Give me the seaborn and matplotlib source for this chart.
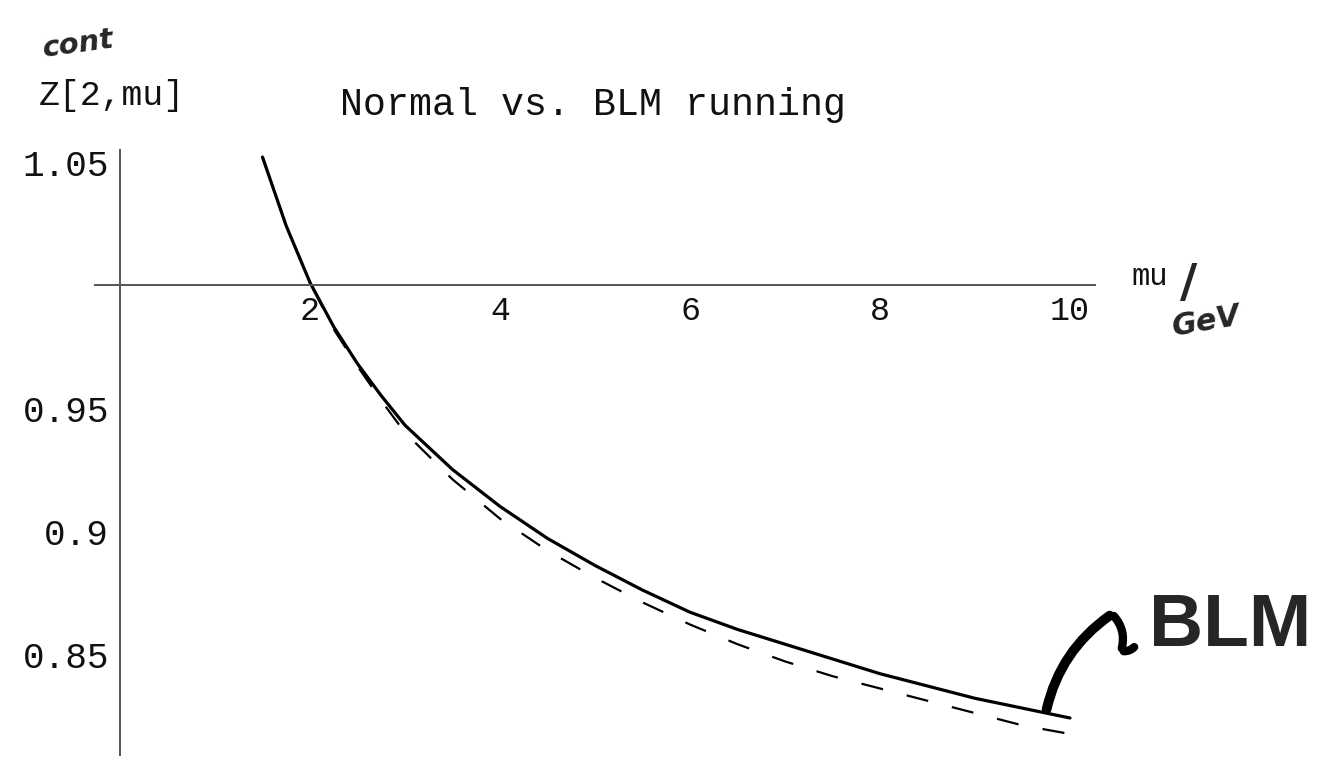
import numpy as np
import pandas as pd
import matplotlib
matplotlib.use("Agg")
import matplotlib.pyplot as plt
import seaborn as sns
from matplotlib.patches import FancyArrowPatch

# ---- data ----
mu = [1.5, 1.75, 2.0, 2.25, 2.5, 2.75, 3.0, 3.5, 4.0, 4.5, 5.0, 5.5, 6.0, 6.5, 7.0, 7.5, 8.0, 8.5, 9.0, 9.5, 10.0]
z_blm = [1.052, 1.024, 1.001, 0.983, 0.968, 0.955, 0.943, 0.925, 0.910, 0.897, 0.886, 0.876, 0.867, 0.860, 0.854, 0.848, 0.842, 0.837, 0.832, 0.828, 0.824]
z_normal = [1.052, 1.024, 1.001, 0.982, 0.967, 0.953, 0.940, 0.921, 0.905, 0.892, 0.881, 0.871, 0.862, 0.854, 0.847, 0.841, 0.836, 0.831, 0.826, 0.821, 0.8175]
xticks = [2, 4, 6, 8, 10]
yticks = [1.05, 0.95, 0.9, 0.85]
ytick_labels = ["1.05", "0.95", "0.9", "0.85"]

df = pd.DataFrame({"mu": mu + mu,
                   "Z": z_blm + z_normal,
                   "run": ["BLM"] * len(mu) + ["Normal"] * len(mu)})

sns.set_style("white")
plt.rcParams["font.family"] = ["Liberation Mono", "DejaVu Sans"]

W, H = 1319, 766
fig = plt.figure(figsize=(W / 100, H / 100), dpi=100)
ax = fig.add_axes([95.3 / W, 1 - 754.9 / H, (1094.7 - 95.3) / W, (754.9 - 149.7) / H])

sns.lineplot(data=df[df.run == "BLM"], x="mu", y="Z", color="black", lw=2.3, ax=ax, sort=False)
sns.lineplot(data=df[df.run == "Normal"], x="mu", y="Z", color="black", lw=1.6, ax=ax, sort=False)
ax.lines[1].set_dashes((10, 11))

ax.set_xlim(-0.26, 10.26)
ax.set_ylim(0.809, 1.055)
ax.set_xlabel("")
ax.set_ylabel("")

for s in ["top", "right"]:
    ax.spines[s].set_visible(False)
ax.spines["left"].set_position(("data", 0))
ax.spines["bottom"].set_position(("data", 1.0))
for s in ["left", "bottom"]:
    ax.spines[s].set_color("#555555")
    ax.spines[s].set_linewidth(1.4)

ax.set_xticks(xticks)
ax.set_xticklabels([str(t) for t in xticks])
ax.set_yticks(yticks)
ax.set_yticklabels(ytick_labels)
ax.tick_params(axis="both", direction="in", length=5, width=1.2, color="#555555",
               labelcolor="#111111")
ax.tick_params(axis="x", pad=8, labelsize=24)
ax.tick_params(axis="y", pad=8, labelsize=26)
ax.patch.set_alpha(0)

def fx(px):
    return px / W

def fy(py):
    return 1 - py / H

fig.text(fx(593), fy(105), "Normal vs. BLM running", ha="center", va="center",
         fontsize=27.5, color="#111111")
fig.text(fx(112), fy(96), "Z[2,mu]", ha="center", va="center", fontsize=25, color="#111111")
fig.text(fx(1150), fy(277), "mu", ha="center", va="center", fontsize=22, color="#111111")

# handwritten notes
fig.text(fx(78), fy(44), "cont", ha="center", va="center", fontsize=21,
         fontweight="bold", fontstyle="italic", family=["DejaVu Sans"], rotation=8)
fig.text(fx(1189), fy(284), "/", ha="center", va="center", fontsize=34,
         fontweight="bold", family=["DejaVu Sans"])
fig.text(fx(1207), fy(322), "GeV", ha="center", va="center", fontsize=22,
         fontweight="bold", fontstyle="italic", family=["DejaVu Sans"], rotation=10)
fig.text(fx(1230), fy(627), "BLM", ha="center", va="center", fontsize=54,
         fontweight="bold", family=["Liberation Sans", "DejaVu Sans"])

arr1 = FancyArrowPatch((1046, H - 712), (1112, H - 614), arrowstyle="-",
                       connectionstyle="arc3,rad=-0.2", lw=7, color="black",
                       transform=None, capstyle="round")
arr2 = FancyArrowPatch((1112, H - 614), (1121, H - 651), arrowstyle="-",
                       connectionstyle="arc3,rad=-0.3", lw=6, color="black",
                       transform=None, capstyle="round")
arr3 = FancyArrowPatch((1121, H - 651), (1136, H - 645), arrowstyle="-",
                       connectionstyle="arc3,rad=0.3", lw=6, color="black",
                       transform=None, capstyle="round")
fig.patches.extend([arr1, arr2, arr3])

fig.savefig("out.png", dpi=100)
